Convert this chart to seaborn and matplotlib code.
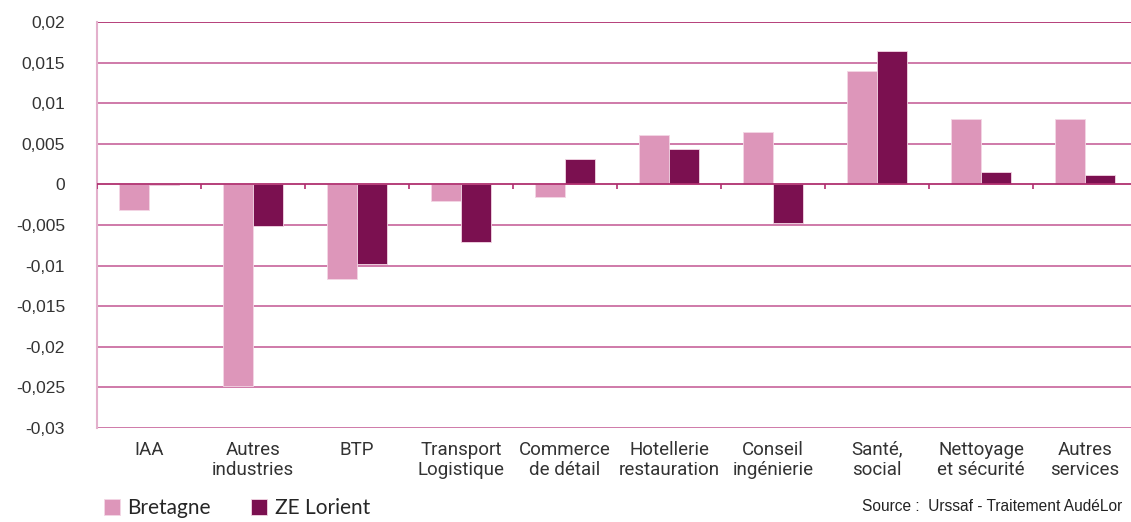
import numpy as np
import pandas as pd
import matplotlib.pyplot as plt
import seaborn as sns

# data
categories = ["IAA", "Autres\nindustries", "BTP", "Transport\nLogistique", "Commerce\nde détail",
              "Hotellerie\nrestauration", "Conseil\ningénierie", "Santé,\nsocial",
              "Nettoyage\net sécurité", "Autres\nservices"]
bretagne = [-0.0031, -0.0248, -0.0116, -0.0021, -0.0015, 0.0061, 0.0064, 0.0139, 0.0080, 0.0081]
ze_lorient = [-0.0001, -0.0051, -0.0098, -0.0071, 0.0031, 0.0044, -0.0047, 0.0164, 0.0015, 0.0012]
series = ["Bretagne", "ZE Lorient"]
yticks = [0.02, 0.015, 0.01, 0.005, 0, -0.005, -0.01, -0.015, -0.02, -0.025, -0.03]
ytick_labels = ["0,02", "0,015", "0,01", "0,005", "0", "-0,005", "-0,01", "-0,015", "-0,02", "-0,025", "-0,03"]
source = "Source :  Urssaf - Traitement AudéLor"

df = pd.DataFrame({
    "secteur": categories * 2,
    "serie": [series[0]] * len(categories) + [series[1]] * len(categories),
    "valeur": bretagne + ze_lorient,
})

sns.set_style("white")
plt.rcParams["font.family"] = ["Liberation Sans", "DejaVu Sans"]

fig = plt.figure(figsize=(11.31, 5.22), dpi=100)
ax = fig.add_axes([0.0858, 0.180, 0.9195, 0.778])

sns.barplot(data=df, x="secteur", y="valeur", hue="serie", order=categories,
            palette=["#DD96BA", "#7B1050"], width=0.58, gap=0, saturation=1,
            edgecolor="#F3D6E5", linewidth=0.6, ax=ax, legend=True)

ax.set_xlim(-0.5, len(categories) - 0.5)
ax.set_ylim(-0.03, 0.02)
ax.set_yticks(yticks)
ax.set_yticklabels(ytick_labels, fontsize=12.5, color="#333333")
ax.set_axisbelow(True)
for y in yticks:
    col = "#B0306F" if y in (0, 0.02) else "#CC6FA3"
    ax.axhline(y, color=col, lw=1.3, zorder=0 if y != 0 else 3)

# category separators on the zero line
ax.vlines(np.arange(-0.5, len(categories)), 0, -0.0006, color="#B0306F", lw=1.2, zorder=3)

for s in ["top", "right", "bottom"]:
    ax.spines[s].set_visible(False)
ax.spines["left"].set_color("#E3B0CC")
ax.spines["left"].set_linewidth(1.5)
ax.tick_params(axis="y", length=6, color="#B0306F", width=1.2, pad=17)
ax.tick_params(axis="x", length=0, pad=9)
for lab in ax.get_xticklabels():
    lab.set_family(["Roboto", "DejaVu Sans"])
    lab.set_fontsize(13.5)
    lab.set_color("#333333")
    lab.set_linespacing(1.2)
ax.set_xlabel("")
ax.set_ylabel("")

handles, labels = ax.get_legend_handles_labels()
ax.get_legend().remove()
fig.legend(handles, labels, loc="lower left", bbox_to_anchor=(0.075, -0.028), ncol=2,
           frameon=False, handlelength=0.8, handleheight=0.8, handletextpad=0.35,
           columnspacing=1.9, prop={"family": ["Lato", "DejaVu Sans"], "size": 15})

fig.text(0.762, 0.029, source, fontsize=11.2, color="#222222", va="center", ha="left")

fig.savefig("out.png", dpi=100)
